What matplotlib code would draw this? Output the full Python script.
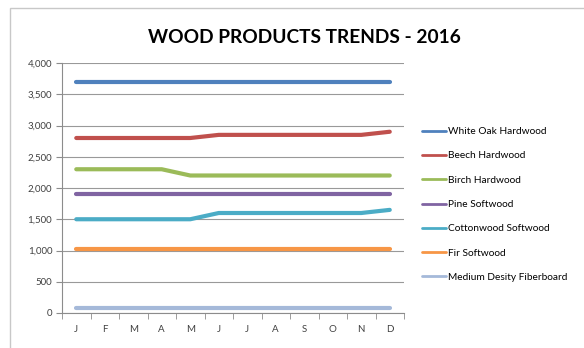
import matplotlib
matplotlib.use('Agg')
import matplotlib.pyplot as plt
from matplotlib.patches import Rectangle
import numpy as np

plt.rcParams['font.family'] = ['Lato', 'DejaVu Sans']

months = ['J', 'F', 'M', 'A', 'M', 'J', 'J', 'A', 'S', 'O', 'N', 'D']
white_oak = [3700] * 12
beech = [2800, 2800, 2800, 2800, 2800, 2850, 2850, 2850, 2850, 2850, 2850, 2900]
birch = [2300, 2300, 2300, 2300, 2200, 2200, 2200, 2200, 2200, 2200, 2200, 2200]
pine = [1900] * 12
cottonwood = [1500, 1500, 1500, 1500, 1500, 1600, 1600, 1600, 1600, 1600, 1600, 1650]
fir = [1030] * 12
mdf = [75] * 12

series = [
    ('White Oak Hardwood', white_oak, '#4F81BD'),
    ('Beech Hardwood', beech, '#C0504D'),
    ('Birch Hardwood', birch, '#9BBB59'),
    ('Pine Softwood', pine, '#8064A2'),
    ('Cottonwood Softwood', cottonwood, '#4BACC6'),
    ('Fir Softwood', fir, '#F79646'),
    ('Medium Desity Fiberboard', mdf, '#A5B9D9'),
]

fig = plt.figure(figsize=(5.84, 3.48), dpi=100)
fig.patches.append(Rectangle((10 / 584, -0.01), 1.0, 1.0 - 8 / 348 + 0.01,
                             transform=fig.transFigure, fill=False,
                             edgecolor='#C8C8C8', lw=1))
ax = fig.add_axes([62 / 584, 35 / 348, 342 / 584, 250 / 348])

x = np.arange(len(months))
for name, vals, col in series:
    ax.plot(x, vals, color=col, lw=3, label=name, solid_capstyle='round')

ax.set_xlim(-0.5, 11.5)
ax.set_ylim(0, 4000)
ax.set_yticks(range(0, 4001, 500))
ax.set_yticklabels([f'{v:,}' for v in range(0, 4001, 500)])
ax.yaxis.grid(True, color='#999999', lw=0.8)
ax.set_axisbelow(True)

ax.set_xticks(x)
ax.set_xticklabels(months)
ax.set_xticks(np.arange(-0.5, 12, 1), minor=True)
ax.tick_params(axis='x', which='major', length=0, pad=9, labelsize=7, colors='#404040')
ax.tick_params(axis='x', which='minor', length=4, color='#8C8C8C', direction='out')
ax.tick_params(axis='y', length=4, color='#8C8C8C', labelsize=7, colors='#404040', pad=3)

for s in ['top', 'right']:
    ax.spines[s].set_visible(False)
ax.spines['left'].set_color('#8C8C8C')
ax.spines['bottom'].set_color('#8C8C8C')

fig.text(0.522, 0.893, 'WOOD PRODUCTS TRENDS - 2016', ha='center', va='center',
         fontsize=13.8, fontweight='bold', color='black')

leg = ax.legend(loc='upper left', bbox_to_anchor=(1.04, 0.76), frameon=False,
                fontsize=7.3, handlelength=2.4, handletextpad=0.15, labelspacing=1.5,
                borderaxespad=0)
for h in leg.get_lines():
    h.set_linewidth(2)

fig.savefig('out.png', dpi=100, facecolor='white')
